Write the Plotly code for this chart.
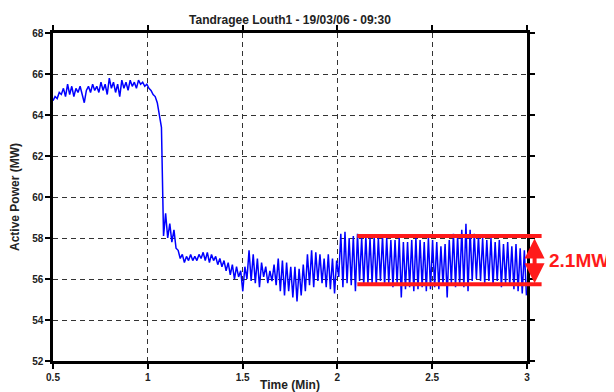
import numpy as np
import plotly.graph_objects as go

# ---- data ----
t_start = 0.5          # minutes
t_step = 0.011         # minutes between samples

power = [
    # 0.50 - 1.05 min
    64.7, 64.9, 64.8, 65.1, 65.0, 65.3, 64.9, 65.5, 65.0, 65.4,
    64.9, 65.3, 65.1, 65.4, 65.0, 64.6, 65.2, 65.4, 65.1, 65.5,
    65.2, 65.4, 65.1, 65.6, 65.2, 65.5, 65.0, 65.8, 65.3, 65.6,
    65.1, 65.5, 64.9, 65.7, 65.3, 65.6, 65.2, 65.7, 65.4, 65.6,
    65.3, 65.7, 65.5, 65.6, 65.4, 65.5, 65.3, 65.2, 65.0, 64.9,
    64.6,
    # 1.06 - 1.49 min
    64.0, 63.4, 58.1, 59.2, 58.0, 58.7, 57.8, 58.4, 57.5, 57.4,
    57.0, 57.2, 56.8, 57.1, 56.9, 57.2, 56.9, 57.1, 56.9, 57.2,
    57.0, 57.3, 56.9, 57.3, 56.8, 57.2, 56.9, 57.1, 56.7, 57.0,
    56.6, 56.9, 56.4, 56.8, 56.2, 56.7, 56.0, 56.6, 56.1, 56.4,
    # 1.50 - 2.00 min
    55.4, 56.6, 56.0, 57.4, 55.9, 57.2, 55.8, 57.0, 55.6, 56.8,
    56.1, 56.6, 55.8, 56.4, 55.9, 56.7, 55.7, 57.0, 55.4, 56.9,
    55.2, 56.8, 55.4, 56.6, 55.1, 56.6, 54.9, 56.5, 55.2, 56.7,
    55.4, 57.2, 55.7, 57.4, 55.6, 57.3, 55.9, 57.2, 55.8, 57.0,
    55.6, 57.2, 55.5, 57.0, 55.3, 56.9,
    # 2.00 - 2.50 min
    56.1, 58.2, 55.6, 58.3, 55.8, 58.0, 55.7, 58.1, 55.4, 58.2,
    55.9, 58.0, 55.7, 58.1, 55.8, 58.0, 55.8, 58.1, 55.7, 58.0,
    55.9, 58.1, 55.7, 58.0, 55.8, 57.9, 55.6, 57.9, 55.8, 58.0,
    55.1, 57.8, 55.5, 57.8, 55.6, 57.9, 55.4, 58.0, 55.5, 57.9,
    55.6, 57.8, 55.4, 58.0, 55.5, 57.9,
    # 2.50 - 3.00 min
    55.6, 57.8, 55.5, 57.6, 55.7, 57.7, 55.1, 57.9, 55.8, 58.2,
    55.6, 58.1, 55.7, 58.4, 55.6, 58.7, 55.4, 58.4, 55.9, 58.2,
    56.0, 58.1, 55.9, 58.0, 55.8, 57.9, 55.9, 58.0, 55.7, 57.8,
    55.9, 57.9, 55.6, 57.7, 55.8, 57.8, 55.7, 57.6, 55.5, 57.7,
    55.4, 57.5, 55.3, 57.4, 55.2,
]
time_min = t_start + t_step * np.arange(len(power))

x_range = [0.5, 3.0]
y_range = [52, 68]
x_ticks = [0.5, 1, 1.5, 2, 2.5, 3]
y_ticks = [52, 54, 56, 58, 60, 62, 64, 66, 68]

band_top = 58.1        # MW
band_bottom = 55.75    # MW
band_start = 2.105     # min
band_end = 3.077       # min (extends past the axis)
arrow_t = 3.04         # min
label_t = 3.105        # min
band_label = "2.1MW"

title = "Tandragee Louth1 - 19/03/06 - 09:30"
x_title = "Time (Min)"
y_title = "Active Power (MW)"

FONT = "Liberation Sans, Arial"


def xpaper(t):
    return (t - x_range[0]) / (x_range[1] - x_range[0])


fig = go.Figure()
fig.add_trace(go.Scatter(
    x=time_min, y=power, mode="lines",
    line=dict(color="#0000ff", width=1.5),
    showlegend=False,
))

red = "#ff1a1a"
for yv in (band_top, band_bottom):
    fig.add_shape(type="line", xref="paper", yref="y",
                  x0=xpaper(band_start), x1=xpaper(band_end), y0=yv, y1=yv,
                  line=dict(color=red, width=4), layer="above")

fig.add_annotation(xref="paper", yref="y", x=xpaper(arrow_t), y=band_bottom,
                   axref="pixel", ayref="y", ax=0, ay=band_top,
                   text="", showarrow=True, arrowside="end+start",
                   arrowhead=2, startarrowhead=2,
                   arrowsize=1.0, startarrowsize=1.0,
                   arrowwidth=4, arrowcolor=red,
                   standoff=1, startstandoff=1)
fig.add_annotation(xref="paper", yref="y", x=xpaper(label_t),
                   y=(band_top + band_bottom) / 2,
                   text=band_label, showarrow=False, xanchor="left", yanchor="middle",
                   font=dict(family=FONT, size=19, color=red, weight="bold"))

axis_common = dict(
    showline=True, linecolor="black", linewidth=2.5, mirror="allticks",
    ticks="outside", ticklen=5, tickwidth=2, tickcolor="black",
    showgrid=True, gridcolor="#333333", gridwidth=1, griddash="5px,4px",
    zeroline=False,
    tickfont=dict(family=FONT, size=10, color="#222222", weight="bold"),
)

fig.update_xaxes(range=x_range, tickvals=x_ticks, ticktext=[str(v) for v in x_ticks],
                 title=dict(text=x_title, standoff=8,
                            font=dict(family=FONT, size=12, color="#222222", weight="bold")),
                 **axis_common)
fig.update_yaxes(range=y_range, tickvals=y_ticks,
                 title=dict(text=y_title, standoff=10,
                            font=dict(family=FONT, size=12, color="#222222", weight="bold")),
                 **axis_common)

# page body has an 8px margin, so the figure is sized/offset to compensate
W, H = 606, 384
L, R, T, B = 45, 87, 25, 31
fig.update_layout(
    width=W, height=H,
    margin=dict(l=L, r=R, t=T, b=B, autoexpand=False),
    paper_bgcolor="white", plot_bgcolor="white",
    title=dict(text=title, x=(L + (W - R)) / 2 / W, xanchor="center", y=1 - 12 / H,
               yanchor="middle",
               font=dict(family=FONT, size=12, color="#222222", weight="bold")),
)

fig.write_html("out.html")
